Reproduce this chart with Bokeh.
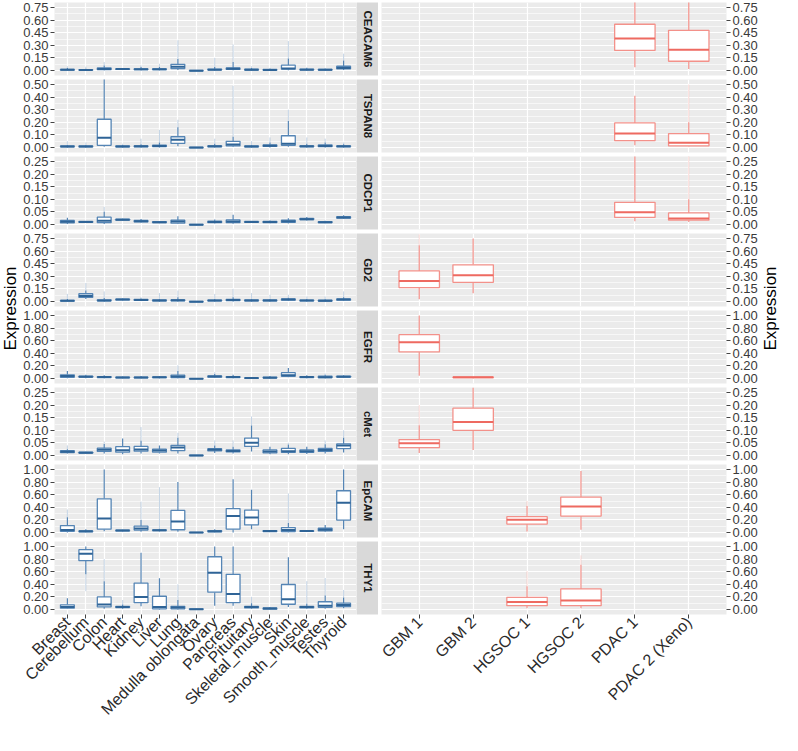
import math
from bokeh.plotting import figure
from bokeh.layouts import row, column
from bokeh.models import (FactorRange, Range1d, SingleIntervalTicker,
                          NumeralTickFormatter, ColumnDataSource)
from bokeh.core.properties import value
from bokeh.embed import file_html
from bokeh.resources import INLINE

TISSUES = ["Breast", "Cerebellum", "Colon", "Heart", "Kidney", "Liver", "Lung",
           "Medulla oblongata", "Ovary", "Pancreas", "Pituitary", "Skeletal_muscle",
           "Skin", "Smooth_muscle", "Testes", "Thyroid"]
TUMORS = ["GBM 1", "GBM 2", "HGSOC 1", "HGSOC 2", "PDAC 1", "PDAC 2 (Xeno)"]
GENES = ["CEACAM6", "TSPAN8", "CDCP1", "GD2", "EGFR", "cMet", "EpCAM", "THY1"]
Y_TOP = [0.75, 0.50, 0.25, 0.75, 1.00, 0.25, 1.00, 1.00]

# each entry: (lowest point, lower whisker, Q1, median, Q3, upper whisker, highest point)
CEACAM6_N = [
    (0, 0, 0.004, 0.008, 0.013, 0.03, 0.05),
    (0, 0, 0.003, 0.006, 0.010, 0.02, 0.045),
    (0.002, 0.002, 0.010, 0.018, 0.030, 0.06, 0.10),
    (0.008, 0.008, 0.012, 0.016, 0.020, 0.03, 0.03),
    (0.002, 0.002, 0.009, 0.013, 0.019, 0.04, 0.06),
    (0.002, 0.002, 0.009, 0.014, 0.020, 0.04, 0.08),
    (0.005, 0.005, 0.022, 0.044, 0.073, 0.136, 0.36),
    (-0.006, -0.006, -0.004, -0.002, 0.0, 0.0, 0.0),
    (0, 0, 0.006, 0.010, 0.016, 0.04, 0.15),
    (0.002, 0.002, 0.012, 0.020, 0.030, 0.10, 0.31),
    (0, 0, 0.005, 0.010, 0.015, 0.03, 0.05),
    (0, 0, 0.003, 0.007, 0.012, 0.02, 0.03),
    (0.003, 0.003, 0.015, 0.022, 0.063, 0.143, 0.35),
    (0, 0, 0.006, 0.010, 0.015, 0.03, 0.04),
    (0, 0, 0.005, 0.009, 0.013, 0.02, 0.03),
    (0.005, 0.005, 0.018, 0.030, 0.050, 0.12, 0.20),
]
CEACAM6_T = [None, None, None, None,
             (0.037, 0.037, 0.239, 0.382, 0.551, 0.95, 0.95),
             (0.018, 0.018, 0.110, 0.246, 0.478, 0.95, 0.95)]

TSPAN8_N = [
    (0, 0, 0.005, 0.008, 0.012, 0.02, 0.05),
    (0, 0, 0.004, 0.008, 0.012, 0.02, 0.04),
    (0.005, 0.005, 0.017, 0.078, 0.224, 0.55, 0.55),
    (0, 0, 0.005, 0.008, 0.012, 0.02, 0.03),
    (0, 0, 0.005, 0.009, 0.013, 0.025, 0.07),
    (0, 0, 0.007, 0.012, 0.018, 0.04, 0.14),
    (0.01, 0.01, 0.032, 0.061, 0.085, 0.16, 0.22),
    (-0.004, -0.004, -0.003, -0.001, 0.001, 0.001, 0.001),
    (0, 0, 0.005, 0.009, 0.013, 0.03, 0.07),
    (0.005, 0.005, 0.012, 0.024, 0.049, 0.085, 0.49),
    (0, 0, 0.004, 0.008, 0.012, 0.02, 0.05),
    (0, 0, 0.008, 0.013, 0.020, 0.04, 0.08),
    (0.005, 0.005, 0.017, 0.029, 0.093, 0.21, 0.30),
    (0, 0, 0.005, 0.009, 0.013, 0.03, 0.08),
    (0, 0, 0.006, 0.012, 0.020, 0.04, 0.07),
    (0, 0, 0.005, 0.009, 0.013, 0.025, 0.04),
]
TSPAN8_T = [None, None, None, None,
            (0.017, 0.017, 0.054, 0.110, 0.195, 0.41, 0.41),
            (0.008, 0.008, 0.012, 0.037, 0.110, 0.20, 0.50)]

CDCP1_N = [
    (0.002, 0.002, 0.006, 0.011, 0.016, 0.027, 0.027),
    (0.006, 0.006, 0.008, 0.010, 0.012, 0.014, 0.014),
    (0.002, 0.002, 0.007, 0.015, 0.029, 0.051, 0.07),
    (0.015, 0.015, 0.017, 0.019, 0.021, 0.023, 0.023),
    (0.008, 0.008, 0.010, 0.013, 0.016, 0.022, 0.022),
    (0.005, 0.005, 0.007, 0.009, 0.011, 0.013, 0.013),
    (0.002, 0.002, 0.005, 0.012, 0.017, 0.033, 0.033),
    (-0.003, -0.003, -0.002, -0.001, 0.0, 0.0, 0.0),
    (0.004, 0.004, 0.007, 0.010, 0.013, 0.020, 0.020),
    (0.003, 0.003, 0.007, 0.012, 0.018, 0.039, 0.039),
    (0.006, 0.006, 0.008, 0.010, 0.012, 0.014, 0.014),
    (0.005, 0.005, 0.007, 0.010, 0.012, 0.016, 0.016),
    (0.004, 0.004, 0.008, 0.013, 0.017, 0.025, 0.025),
    (0.016, 0.016, 0.019, 0.021, 0.024, 0.030, 0.030),
    (0.005, 0.005, 0.007, 0.009, 0.011, 0.015, 0.015),
    (0.022, 0.022, 0.025, 0.028, 0.031, 0.037, 0.037),
]
CDCP1_T = [None, None, None, None,
           (0.013, 0.013, 0.028, 0.049, 0.088, 0.30, 0.30),
           (0.010, 0.010, 0.017, 0.024, 0.046, 0.10, 0.30)]

GD2_N = [
    (0, 0, 0.004, 0.008, 0.013, 0.03, 0.09),
    (0.03, 0.03, 0.048, 0.066, 0.092, 0.13, 0.22),
    (0, 0, 0.008, 0.012, 0.020, 0.04, 0.12),
    (0.012, 0.012, 0.018, 0.022, 0.027, 0.035, 0.035),
    (0.005, 0.005, 0.012, 0.018, 0.024, 0.035, 0.05),
    (0, 0, 0.006, 0.012, 0.018, 0.03, 0.10),
    (0, 0, 0.008, 0.013, 0.020, 0.05, 0.13),
    (-0.005, -0.005, -0.004, -0.002, 0.0, 0.0, 0.0),
    (0, 0, 0.006, 0.011, 0.017, 0.03, 0.09),
    (0, 0, 0.010, 0.016, 0.025, 0.05, 0.15),
    (0, 0, 0.006, 0.012, 0.018, 0.03, 0.10),
    (0, 0, 0.006, 0.012, 0.018, 0.03, 0.08),
    (0.005, 0.005, 0.015, 0.022, 0.030, 0.045, 0.08),
    (0, 0, 0.006, 0.011, 0.017, 0.03, 0.06),
    (0, 0, 0.005, 0.009, 0.015, 0.025, 0.06),
    (0.005, 0.005, 0.015, 0.022, 0.030, 0.05, 0.12),
]
GD2_T = [(0.026, 0.026, 0.165, 0.243, 0.364, 0.67, 0.80),
         (0.099, 0.099, 0.228, 0.312, 0.437, 0.75, 0.75),
         None, None, None, None]

EGFR_N = [
    (0.005, 0.005, 0.019, 0.039, 0.058, 0.117, 0.117),
    (0.005, 0.005, 0.020, 0.028, 0.035, 0.06, 0.06),
    (0.005, 0.005, 0.015, 0.022, 0.030, 0.05, 0.05),
    (0.003, 0.003, 0.010, 0.015, 0.020, 0.03, 0.03),
    (0.003, 0.003, 0.010, 0.015, 0.020, 0.04, 0.04),
    (0.005, 0.005, 0.012, 0.018, 0.025, 0.04, 0.04),
    (0.005, 0.005, 0.015, 0.030, 0.053, 0.117, 0.21),
    (-0.008, -0.008, -0.006, -0.004, -0.002, -0.002, -0.002),
    (0.008, 0.008, 0.020, 0.030, 0.040, 0.07, 0.10),
    (0.005, 0.005, 0.015, 0.022, 0.030, 0.06, 0.06),
    (0, 0, 0.002, 0.006, 0.010, 0.015, 0.015),
    (0.002, 0.002, 0.008, 0.013, 0.020, 0.04, 0.04),
    (0.02, 0.02, 0.034, 0.053, 0.092, 0.165, 0.165),
    (0.005, 0.005, 0.015, 0.022, 0.030, 0.05, 0.05),
    (0.003, 0.003, 0.012, 0.020, 0.035, 0.06, 0.08),
    (0.01, 0.01, 0.020, 0.028, 0.035, 0.05, 0.05),
]
EGFR_T = [(0.044, 0.044, 0.422, 0.574, 0.696, 1.0, 1.0),
          (0.005, 0.005, 0.012, 0.018, 0.022, 0.025, 0.025),
          None, None, None, None]

CMET_N = [
    (0.008, 0.008, 0.011, 0.015, 0.019, 0.025, 0.04),
    (0.007, 0.007, 0.009, 0.011, 0.013, 0.015, 0.015),
    (0.008, 0.008, 0.016, 0.023, 0.029, 0.046, 0.055),
    (0.005, 0.005, 0.013, 0.021, 0.035, 0.067, 0.067),
    (0.008, 0.008, 0.017, 0.024, 0.036, 0.058, 0.113),
    (0.008, 0.008, 0.013, 0.020, 0.025, 0.040, 0.040),
    (0.008, 0.008, 0.019, 0.032, 0.040, 0.07, 0.09),
    (-0.002, -0.002, -0.001, 0.0, 0.001, 0.002, 0.002),
    (0.01, 0.01, 0.018, 0.023, 0.027, 0.04, 0.06),
    (0.008, 0.008, 0.014, 0.018, 0.022, 0.035, 0.06),
    (0.016, 0.016, 0.036, 0.051, 0.069, 0.119, 0.155),
    (0.005, 0.005, 0.010, 0.016, 0.022, 0.035, 0.035),
    (0.005, 0.005, 0.012, 0.017, 0.028, 0.044, 0.05),
    (0.006, 0.006, 0.012, 0.017, 0.022, 0.035, 0.035),
    (0.008, 0.008, 0.016, 0.022, 0.028, 0.045, 0.06),
    (0.012, 0.012, 0.027, 0.040, 0.046, 0.07, 0.10),
]
CMET_T = [(0.010, 0.010, 0.031, 0.049, 0.063, 0.12, 0.20),
          (0.022, 0.022, 0.100, 0.133, 0.188, 0.27, 0.27),
          None, None, None, None]

EPCAM_N = [
    (0, 0, 0.019, 0.038, 0.110, 0.24, 0.365),
    (0.005, 0.005, 0.010, 0.020, 0.025, 0.05, 0.05),
    (0.02, 0.02, 0.053, 0.221, 0.534, 1.0, 1.0),
    (0.015, 0.015, 0.025, 0.030, 0.035, 0.045, 0.045),
    (0.01, 0.01, 0.038, 0.062, 0.100, 0.20, 0.49),
    (0.015, 0.015, 0.030, 0.035, 0.040, 0.06, 0.72),
    (0.01, 0.01, 0.043, 0.173, 0.350, 0.80, 0.80),
    (-0.005, -0.005, -0.003, 0.0, 0.003, 0.003, 0.003),
    (0.005, 0.005, 0.010, 0.020, 0.030, 0.05, 0.05),
    (0.0, 0.0, 0.053, 0.260, 0.380, 0.846, 0.846),
    (0.053, 0.053, 0.120, 0.236, 0.356, 0.678, 0.678),
    (0.008, 0.008, 0.015, 0.022, 0.030, 0.04, 0.04),
    (0.005, 0.005, 0.014, 0.038, 0.077, 0.15, 0.62),
    (0.012, 0.012, 0.018, 0.022, 0.026, 0.03, 0.03),
    (0.01, 0.01, 0.024, 0.045, 0.067, 0.12, 0.12),
    (0.053, 0.053, 0.197, 0.471, 0.663, 1.0, 1.0),
]
EPCAM_T = [None, None,
           (0.015, 0.015, 0.133, 0.202, 0.251, 0.42, 0.50),
           (0.044, 0.044, 0.261, 0.414, 0.562, 0.975, 0.975),
           None, None]

THY1_N = [
    (0.01, 0.01, 0.020, 0.040, 0.074, 0.18, 0.18),
    (0.29, 0.56, 0.775, 0.887, 0.950, 1.0, 1.0),
    (0.01, 0.01, 0.040, 0.078, 0.200, 0.45, 0.80),
    (0.01, 0.01, 0.030, 0.040, 0.050, 0.08, 0.15),
    (0.05, 0.05, 0.108, 0.200, 0.420, 0.90, 0.90),
    (0.0, 0.0, 0.010, 0.040, 0.210, 0.495, 0.495),
    (0.0, 0.0, 0.010, 0.030, 0.050, 0.15, 0.40),
    (-0.005, -0.005, 0.0, 0.005, 0.010, 0.015, 0.015),
    (0.06, 0.06, 0.275, 0.583, 0.838, 1.0, 1.0),
    (0.06, 0.06, 0.108, 0.245, 0.559, 1.0, 1.0),
    (0.01, 0.01, 0.025, 0.040, 0.050, 0.10, 0.20),
    (0.0, 0.0, 0.005, 0.015, 0.025, 0.04, 0.04),
    (0.04, 0.04, 0.083, 0.162, 0.397, 0.83, 0.83),
    (0.01, 0.01, 0.025, 0.040, 0.050, 0.09, 0.45),
    (0.01, 0.01, 0.034, 0.060, 0.123, 0.22, 0.50),
    (0.02, 0.02, 0.044, 0.069, 0.100, 0.19, 0.31),
]
THY1_T = [None, None,
          (0.02, 0.02, 0.060, 0.119, 0.193, 0.37, 0.61),
          (0.02, 0.02, 0.060, 0.144, 0.327, 0.71, 0.86),
          None, None]

NORMAL = [CEACAM6_N, TSPAN8_N, CDCP1_N, GD2_N, EGFR_N, CMET_N, EPCAM_N, THY1_N]
TUMOR = [CEACAM6_T, TSPAN8_T, CDCP1_T, GD2_T, EGFR_T, CMET_T, EPCAM_T, THY1_T]

BLUE, BLUE_MED = "#5585B5", "#2F6497"
RED, RED_MED = "#F3918A", "#EE6A61"

FONT = value("Liberation Sans")
FRAME_H = 73
PAD = 2          # border above and below each facet row (gap = 2*PAD)
BOTTOM = 113     # room for the rotated category labels
YPAD = 0.08
LEFT_W, RIGHT_W = 303, 345
AX_L, AX_R = 33, 34
STRIP_W = 22
TITLE_L, TITLE_R = 20, 20


def panel(cats, stats, top, side, last, color, med_color, frame_w):
    mbb = BOTTOM if last else PAD
    h = FRAME_H + PAD + mbb
    if side == "left":
        w = AX_L + frame_w
        mbl, mbr = AX_L, 0
    else:
        w = 3 + frame_w + AX_R
        mbl, mbr = 3, AX_R
    p = figure(x_range=FactorRange(factors=cats, range_padding=0.2,
                                   range_padding_units="absolute"),
               y_range=Range1d(-YPAD * top, (1 + YPAD) * top),
               width=w, height=h,
               min_border_left=mbl, min_border_right=mbr, min_border_top=PAD,
               min_border_bottom=mbb,
               x_axis_location=("below" if last else None),
               y_axis_location=side,
               toolbar_location=None, output_backend="svg",
               background_fill_color="#EBEBEB", border_fill_color="white",
               outline_line_color=None)
    tk = SingleIntervalTicker(interval=top / 5, num_minor_ticks=2)
    p.yaxis.ticker = tk
    p.yaxis.formatter = NumeralTickFormatter(format="0.00")
    p.yaxis.axis_line_color = None
    p.yaxis.major_tick_in = 0
    p.yaxis.major_tick_out = 4
    p.yaxis.major_tick_line_color = "#444444"
    p.yaxis.minor_tick_line_color = None
    p.yaxis.major_label_standoff = 2
    p.yaxis.major_label_text_font = "Liberation Sans"
    p.yaxis.major_label_text_font_size = "13px"
    p.yaxis.major_label_text_color = "#3A3A3A"
    p.xgrid.grid_line_color = "white"
    p.xgrid.grid_line_width = 1.2
    p.ygrid.grid_line_color = "white"
    p.ygrid.grid_line_width = 1.2
    p.ygrid.minor_grid_line_color = "white"
    p.ygrid.minor_grid_line_width = 0.6
    if last:
        p.xaxis.axis_line_color = None
        p.xaxis.major_tick_in = 0
        p.xaxis.major_tick_out = 4
        p.xaxis.major_tick_line_color = "#444444"
        p.xaxis.major_label_orientation = math.pi / 4
        p.xaxis.major_label_standoff = 1
        p.xaxis.major_label_text_font = "Liberation Sans"
        p.xaxis.major_label_text_font_size = "16px"
        p.xaxis.major_label_text_color = "#2A2A2A"

    data = dict(x=[], mn=[], lw=[], q1=[], md=[], q3=[], uw=[], mx=[])
    for c, s in zip(cats, stats):
        if s is None:
            continue
        data["x"].append(c)
        for k, v in zip(["mn", "lw", "q1", "md", "q3", "uw", "mx"], s):
            data[k].append(v)
    src = ColumnDataSource(data)
    p.segment(x0="x", y0="uw", x1="x", y1="mx", source=src,
              line_color=color, line_alpha=0.35, line_width=1)
    p.segment(x0="x", y0="mn", x1="x", y1="lw", source=src,
              line_color=color, line_alpha=0.35, line_width=1)
    p.segment(x0="x", y0="lw", x1="x", y1="q1", source=src,
              line_color=color, line_width=1.2)
    p.segment(x0="x", y0="q3", x1="x", y1="uw", source=src,
              line_color=color, line_width=1.2)
    p.vbar(x="x", width=0.75, bottom="q1", top="q3", source=src,
           fill_color="white", line_color=color, line_width=1.3)
    p.vbar(x="x", width=0.75, bottom="md", top="md", source=src,
           fill_alpha=0, line_color=med_color, line_width=2)
    return p


def strip(label, last):
    mbb = BOTTOM if last else PAD
    h = FRAME_H + PAD + mbb
    s = figure(x_range=Range1d(0, 1), y_range=Range1d(0, 1),
               width=STRIP_W, height=h,
               min_border_left=0, min_border_right=0, min_border_top=PAD,
               min_border_bottom=mbb,
               x_axis_location=None, y_axis_location=None,
               toolbar_location=None, output_backend="svg",
               background_fill_color="#D9D9D9", border_fill_color="white",
               outline_line_color=None)
    s.grid.visible = False
    s.text(x=[0.5], y=[0.5], text=[label], angle=-math.pi / 2,
           text_align="center", text_baseline="middle", text_font=FONT,
           text_font_style="bold", text_font_size="11.5px", text_color="#1A1A1A")
    return s


def ytitle(w):
    n = len(GENES)
    h = PAD + n * FRAME_H + (n - 1) * 2 * PAD + BOTTOM
    t = figure(x_range=Range1d(0, 1), y_range=Range1d(0, 1),
               width=w, height=h,
               min_border_left=0, min_border_right=0, min_border_top=PAD,
               min_border_bottom=BOTTOM,
               x_axis_location=None, y_axis_location=None,
               toolbar_location=None, output_backend="svg",
               background_fill_color="white", border_fill_color="white",
               outline_line_color=None)
    t.grid.visible = False
    t.text(x=[0.5], y=[0.5], text=["Expression"], angle=math.pi / 2,
           text_align="center", text_baseline="middle", text_font=FONT,
           text_font_size="17px", text_color="#000000")
    return t


rows = []
for i, g in enumerate(GENES):
    last = i == len(GENES) - 1
    lp = panel(TISSUES, NORMAL[i], Y_TOP[i], "left", last, BLUE, BLUE_MED, LEFT_W)
    rp = panel(TUMORS, TUMOR[i], Y_TOP[i], "right", last, RED, RED_MED, RIGHT_W)
    rows.append(row(lp, strip(g, last), rp, spacing=0))

p = row(ytitle(TITLE_L), column(*rows, spacing=0), ytitle(TITLE_R), spacing=0)

open("out.html", "w").write(file_html(p, INLINE))
